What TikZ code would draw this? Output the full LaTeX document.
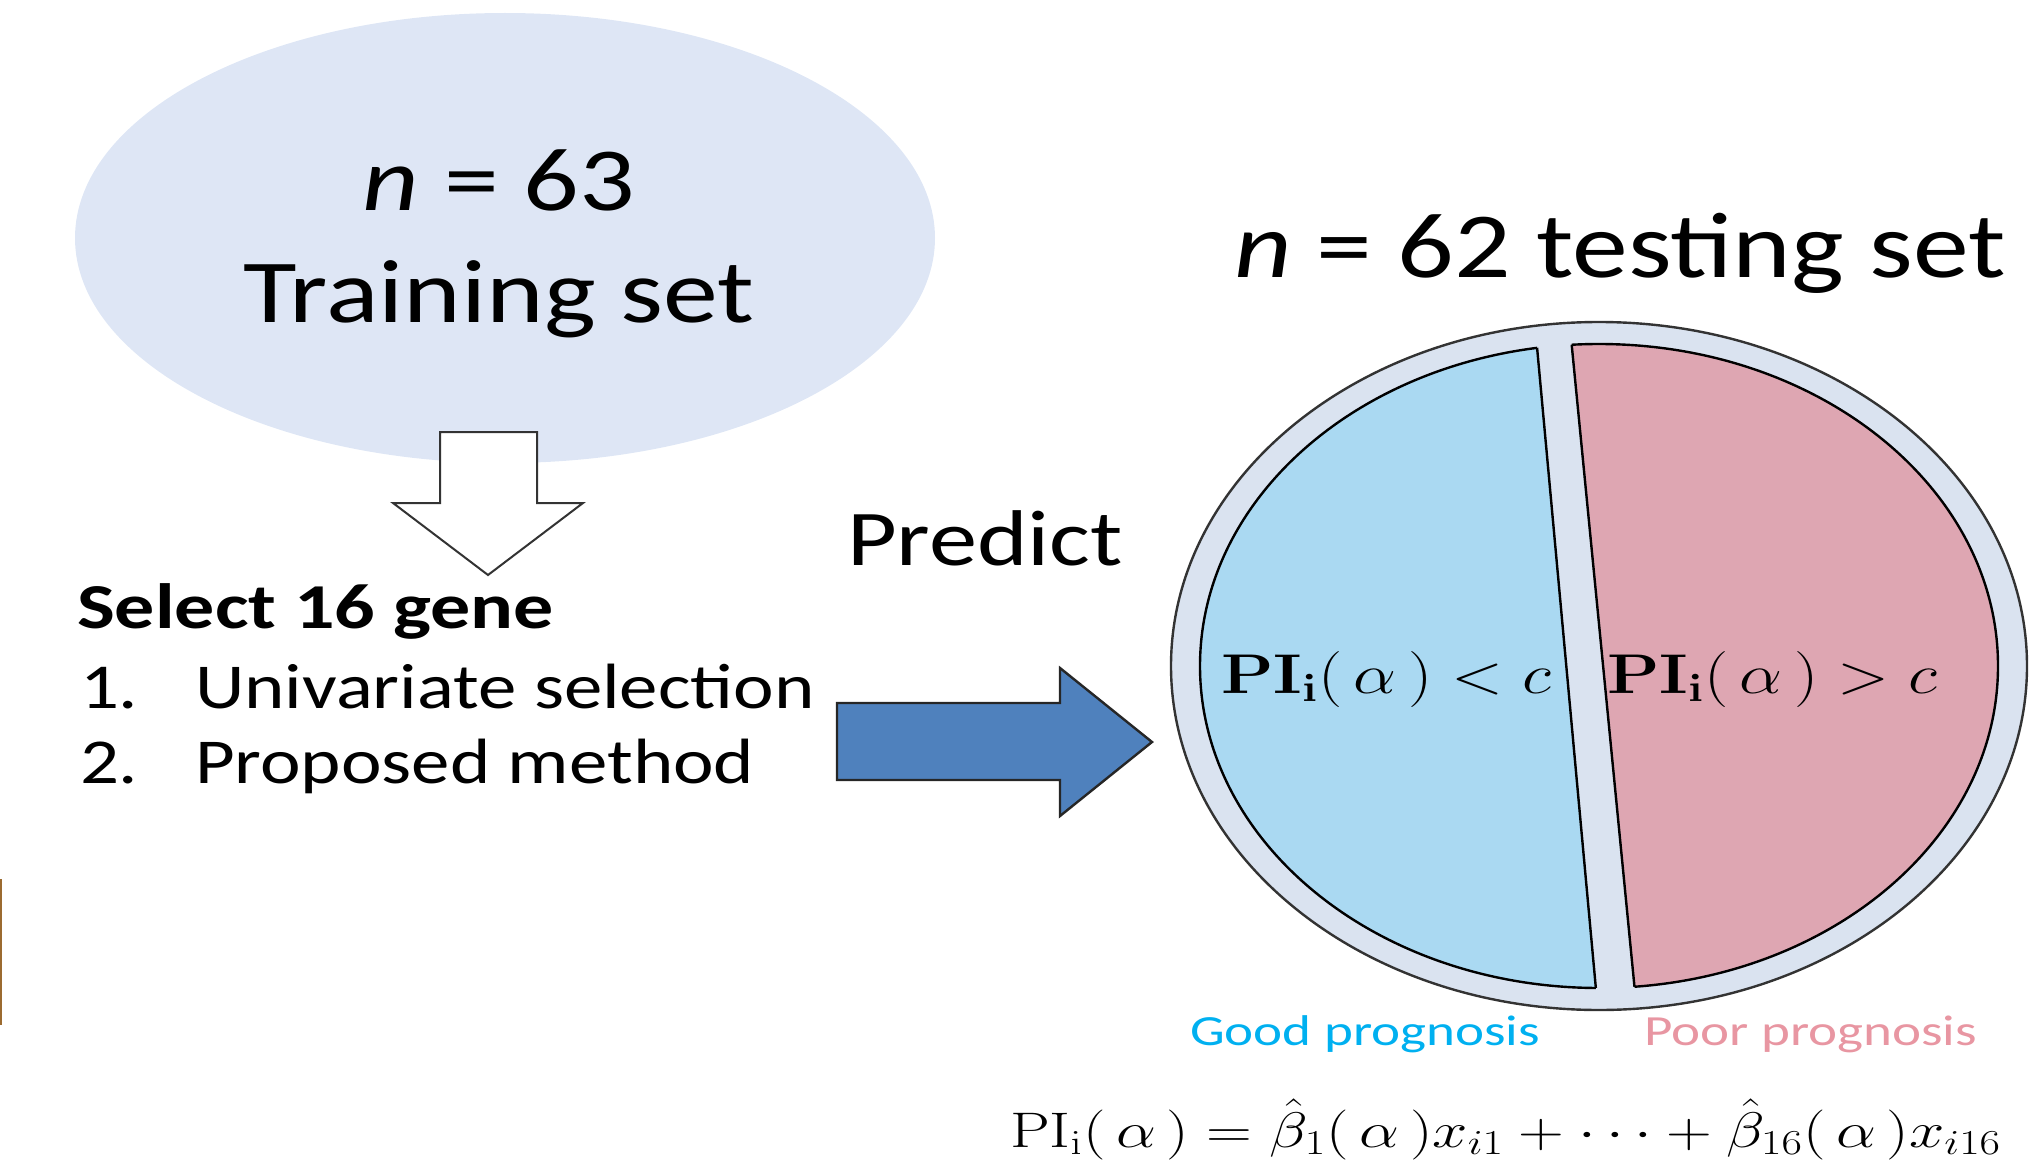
\RequirePackage{fix-cm}
\documentclass[tikz,border=0pt]{standalone}
\usepackage[no-math]{fontspec}
\setmainfont{Carlito}
\usepackage{amsmath}
\usepackage{graphicx}
\definecolor{trainfill}{RGB}{222,230,245}
\definecolor{ringfill}{RGB}{218,227,240}
\definecolor{goodfill}{RGB}{170,217,242}
\definecolor{poorfill}{RGB}{222,166,178}
\definecolor{arrowblue}{RGB}{79,129,189}
\definecolor{goodtxt}{RGB}{0,176,240}
\definecolor{poortxt}{RGB}{232,150,162}
\definecolor{brownbar}{RGB}{156,107,48}
\begin{document}
\begin{tikzpicture}[x=0.5pt,y=-0.5pt,
  hs/.style={xscale=1.22, inner sep=0pt, outer sep=0pt},
  bigtxt/.style={hs, font=\fontsize{45pt}{54pt}\selectfont},
  listtxt/.style={hs, xscale=0.985, anchor=base west, font=\fontsize{32pt}{38pt}\selectfont},
  progtxt/.style={hs, xscale=1.05, anchor=base west, font=\fontsize{21.5pt}{26pt}\selectfont},
  pitxt/.style={hs, anchor=base west, font=\fontsize{28pt}{33pt}\selectfont},
  outl/.style={draw=black!85, line width=1.2pt, line join=miter}]
\useasboundingbox (0,0) rectangle (2030,1161);
\clip (0,0) rectangle (2030,1161);

% left edge mark
\fill[brownbar] (0,879) rectangle (2,1025);

% training set ellipse
\fill[trainfill] (505,238) ellipse [x radius=430, y radius=225];
\node[bigtxt, anchor=base] (ntrain) at (499,210) {\textit{n} = 63};
\node[bigtxt, anchor=base] (train) at (499,322) {Training set};

% hollow down arrow
\filldraw[fill=white, draw=black!80, line width=1pt, line join=miter]
  (440,432) -- (537,432) -- (537,503) -- (583,503) -- (488,575)
  -- (393,503) -- (440,503) -- cycle;

% gene selection text
\node[hs, xscale=1.025, anchor=base west, font=\fontsize{32pt}{38pt}\selectfont\bfseries] (sel) at (77,628) {Select 16 gene};
\node[listtxt] (n1) at (80,708) {1.};
\node[listtxt] (uni) at (195,708) {Univariate selection};
\node[listtxt] (n2) at (80,783) {2.};
\node[listtxt] (prop) at (195,783) {Proposed method};

% predict
\node[hs, anchor=base west, font=\fontsize{39.5pt}{46pt}\selectfont] (pred) at (847,565) {Predict};

% blue block arrow
\filldraw[fill=arrowblue, outl]
  (837,703) -- (1060,703) -- (1060,668) -- (1152,742) -- (1060,816)
  -- (1060,780) -- (837,780) -- cycle;

% testing set title
\node[hs, xscale=0.985, anchor=base west, font=\fontsize{46.5pt}{54pt}\selectfont] (ntest) at (1234,277) {\textit{n} = 62 testing set};

% testing set circle
\filldraw[fill=ringfill, draw=black!80, line width=1.2pt] (1599,666) ellipse [x radius=428, y radius=344];
\begin{scope}
  \clip (1000,290) -- (1532.7,300) -- (1599.7,1030) -- (1000,1040) -- cycle;
  \filldraw[fill=goodfill, draw=black, line width=1.2pt] (1599,666) ellipse [x radius=399, y radius=322];
\end{scope}
\begin{scope}
  \clip (2100,290) -- (1567.3,300) -- (1638.7,1030) -- (2100,1040) -- cycle;
  \filldraw[fill=poorfill, draw=black, line width=1.2pt] (1599,666) ellipse [x radius=399, y radius=322];
\end{scope}
\begin{scope}
  \clip (1599,666) ellipse [x radius=399, y radius=322];
  \draw[black, line width=1.2pt] (1532.7,300) -- (1599.7,1030);
  \draw[black, line width=1.2pt] (1567.3,300) -- (1638.7,1030);
\end{scope}

\node[pitxt] (pilow) at (1221,693) {$\mathbf{PI}_{\mathbf{i}}(\,\alpha\,)<c$};
\node[pitxt] (pihigh) at (1607,693) {$\mathbf{PI}_{\mathbf{i}}(\,\alpha\,)>c$};

\node[progtxt, text=goodtxt] (good) at (1190,1045) {Good prognosis};
\node[progtxt, text=poortxt] (poor) at (1644,1045) {Poor prognosis};

% formula
\node[hs, xscale=1.04, anchor=base west, font=\fontsize{25pt}{30pt}\selectfont] (formula) at (1010,1147)
  {$\mathrm{PI}_{\mathrm{i}}(\,\alpha\,) = \hat{\beta}_1(\,\alpha\,)x_{i1} + \cdots + \hat{\beta}_{16}(\,\alpha\,)x_{i16}$};
\end{tikzpicture}
\end{document}
